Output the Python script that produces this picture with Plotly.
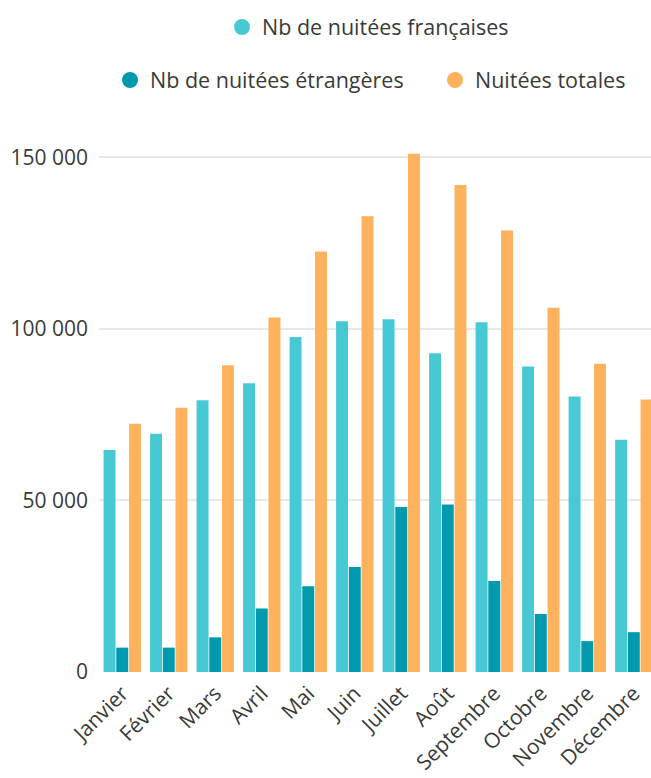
import plotly.graph_objects as go

months = ["Janvier", "Février", "Mars", "Avril", "Mai", "Juin", "Juillet",
          "Août", "Septembre", "Octobre", "Novembre", "Décembre"]
francaises = [64700, 69400, 79200, 84100, 97600, 102200, 102800, 92900, 101900, 89000, 80300, 67700]
etrangeres = [7100, 7100, 10100, 18500, 25000, 30600, 48100, 48800, 26500, 16900, 9000, 11600]
totales = [72300, 77000, 89400, 103300, 122500, 132800, 151000, 141900, 128600, 106100, 89800, 79400]

ytick_vals = [0, 50000, 100000, 150000]
ytick_text = ["0", "50 000", "100 000", "150 000"]

names = ["Nb de nuitées françaises", "Nb de nuitées étrangères", "Nuitées totales"]
colors = ["#46C9D3", "#0099AD", "#FFB25E"]
series = [francaises, etrangeres, totales]

fig = go.Figure()
for name, col, vals in zip(names, colors, series):
    fig.add_trace(go.Bar(x=months, y=vals, name=name, marker_color=col,
                         marker_line_width=0, showlegend=False))

legends = ["legend", "legend2", "legend3"]
for name, col, lg in zip(names, colors, legends):
    fig.add_trace(go.Scatter(x=[None], y=[None], mode="markers", name=name,
                             marker=dict(color=col, size=18, symbol="circle"),
                             legend=lg, showlegend=True))

txt = "#3a3a3a"
W, H = 651, 778
lfont = dict(family="Open Sans", size=21.5, color=txt)


def leg(left, ymid):
    return dict(orientation="h", xref="container", x=left / W, xanchor="left",
                yref="container", y=1 - ymid / H, yanchor="middle",
                font=lfont, itemclick=False, itemdoubleclick=False)


fig.update_layout(
    width=W, height=H,
    margin=dict(l=99, r=0, t=140, b=106),
    paper_bgcolor="white", plot_bgcolor="white",
    font=dict(family="Open Sans", size=21, color=txt),
    barmode="group", bargap=0.18, bargroupgap=0.06,
    legend=leg(222, 27),
    legend2=leg(110, 80),
    legend3=leg(435, 80),
    xaxis=dict(range=[-0.5, 11.37], tickangle=-45, showgrid=False, showline=False,
               ticks="", ticklabelstandoff=4,
               tickfont=dict(family="Open Sans", size=21, color=txt)),
    yaxis=dict(range=[0, 155000], tickvals=ytick_vals, ticktext=ytick_text,
               showgrid=True, gridcolor="#e8e8e8", gridwidth=1.5, zeroline=False,
               ticks="", ticklabelstandoff=10,
               tickfont=dict(family="Open Sans", size=21, color=txt)),
)

fig.write_html("out.html", post_script="document.body.style.margin='0px';",
               config={"displayModeBar": False})
